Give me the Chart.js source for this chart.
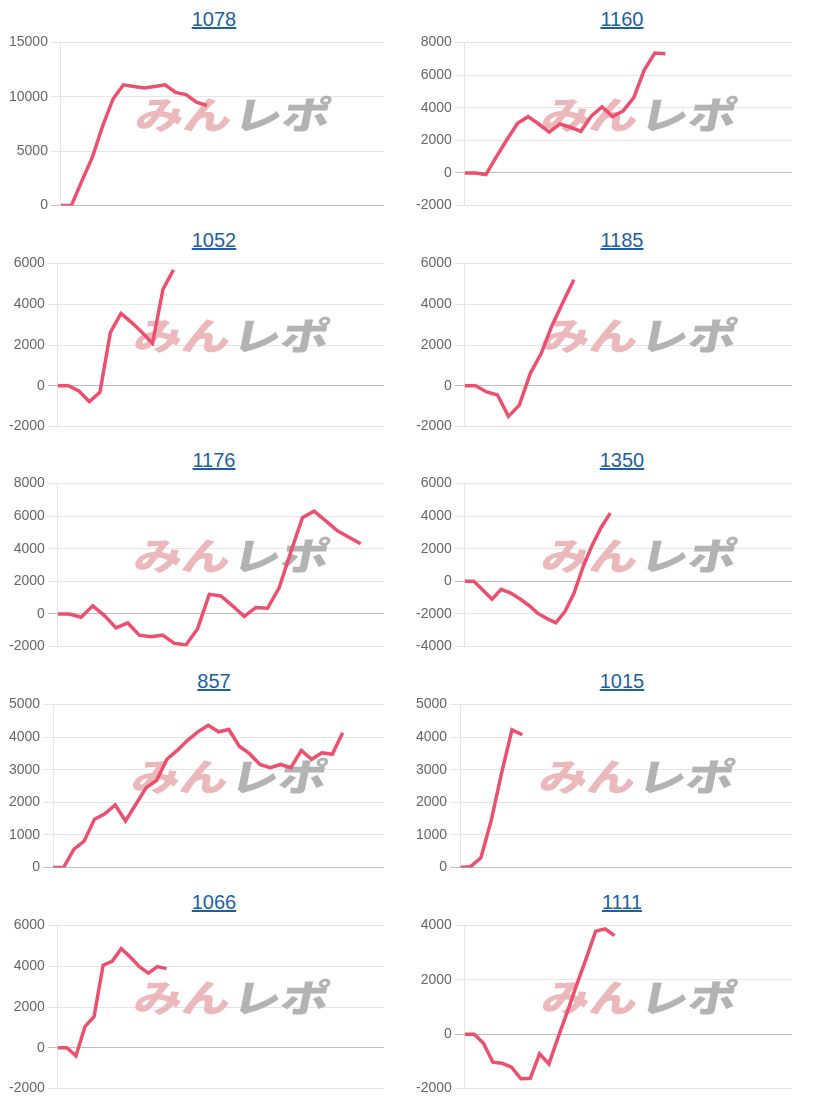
<!DOCTYPE html>
<html>
<head>
<meta charset="utf-8">
<script src="https://cdn.jsdelivr.net/npm/chart.js@4.4.1/dist/chart.umd.min.js"></script>
<style>
body { margin: 0; background: #fff; font-family: "Liberation Sans", Arial, sans-serif; }
#wrap { position: relative; width: 816px; height: 1105px; }
.panel { position: absolute; width: 408px; height: 221px; }
.panel a { position: absolute; left: 0; top: 8px; width: 100%; padding-left: 20px; box-sizing: border-box;
  text-align: center; font-size: 20px; line-height: 22px; color: #1c5fa6; text-decoration: underline; }
.panel canvas { position: absolute; }
</style>
</head>
<body>
<div id="wrap"></div>
<script>
// machine numbers shown as titles, left column then right column per row
const titles = ['1078', '1160', '1052', '1185', '1176', '1350', '857', '1015', '1066', '1111'];

// balance series
const s1078 = [0, 0, 2250, 4400, 7300, 9800, 11100, 10950, 10800, 10950, 11100, 10400, 10200, 9500, 9200];
const s1160 = [0, 0, -100, 1000, 2050, 3050, 3450, 3000, 2500, 3000, 2800, 2550, 3500, 4050, 3450, 3800, 4600, 6300, 7350, 7300];
const s1052 = [0, 0, -250, -770, -320, 2620, 3550, 3110, 2620, 2080, 4740, 5680];
const s1185 = [0, 0, -300, -450, -1500, -950, 600, 1580, 2960, 4100, 5200];
const s1176 = [0, 0, -200, 500, -100, -850, -550, -1300, -1400, -1300, -1800, -1900, -900, 1200, 1100, 500, -150, 400, 350, 1600, 3800, 5900, 6300, 5700, 5100, 4700, 4300];
const s1350 = [0, 0, -550, -1100, -490, -700, -1050, -1450, -1950, -2270, -2540, -1870, -750, 870, 2190, 3300, 4180];
const s857 = [0, 0, 560, 815, 1480, 1650, 1920, 1430, 1940, 2450, 2670, 3320, 3590, 3900, 4160, 4360, 4160, 4230, 3720, 3490, 3160, 3060, 3160, 3060, 3590, 3320, 3520, 3470, 4130];
const s1015 = [0, 30, 300, 1450, 2900, 4220, 4070];
const s1066 = [0, 0, -400, 1040, 1530, 4050, 4240, 4860, 4450, 3980, 3660, 3980, 3880];
const s1111 = [0, 0, -330, -1030, -1070, -1210, -1640, -1620, -720, -1090, -100, 860, 1850, 2800, 3790, 3870, 3630];

// number of x slots per chart (x labels are not shown)
const slotCounts = [32, 32, 32, 31, 29, 37, 33, 33, 37, 36];

// y axis ranges
const yMins = [0, -2000, -2000, -2000, -2000, -4000, 0, 0, -2000, -2000];
const yMaxs = [15000, 8000, 6000, 6000, 8000, 6000, 5000, 5000, 6000, 4000];
const ySteps = [5000, 2000, 2000, 2000, 2000, 2000, 1000, 1000, 2000, 2000];

const series = [s1078, s1160, s1052, s1185, s1176, s1350, s857, s1015, s1066, s1111];

const lineColor = 'rgb(236,80,110)';
const rowTops = [0, 221, 441, 662, 883];

// logo drawn behind the line
const watermark = {
    id: 'watermark',
    beforeDatasetsDraw(chart) {
        const ctx = chart.ctx;
        const a = chart.chartArea;
        const cx = a.left + a.width * 0.535;
        const cy = a.top + a.height * 0.44;
        ctx.save();
        ctx.translate(cx, cy);
        ctx.transform(1, 0, -0.2, 1, 0, 0);
        ctx.scale(1.2, 0.95);
        ctx.font = '900 40px "Noto Sans CJK JP"';
        ctx.textBaseline = 'middle';
        const w1 = ctx.measureText('みん').width;
        const w2 = ctx.measureText('レポ').width;
        const x0 = -(w1 + w2 + 2) / 2;
        ctx.fillStyle = '#ebb8bc';
        ctx.fillText('みん', x0, 0);
        ctx.fillStyle = '#b3b3b3';
        ctx.fillText('レポ', x0 + w1 + 2, 0);
        ctx.restore();
    }
};

const wrap = document.getElementById('wrap');

titles.forEach((title, i) => {
    const col = i % 2, row = Math.floor(i / 2);
    const panel = document.createElement('div');
    panel.className = 'panel';
    panel.style.left = (col * 408) + 'px';
    panel.style.top = rowTops[row] + 'px';

    const link = document.createElement('a');
    link.href = '#';
    link.textContent = title;
    panel.appendChild(link);

    const canvas = document.createElement('canvas');
    canvas.width = col === 0 ? 380 : 381;
    canvas.height = 186;
    canvas.style.left = (col === 0 ? 6 : 5) + 'px';
    canvas.style.top = '31px';
    panel.appendChild(canvas);
    wrap.appendChild(panel);

    const labels = Array.from({ length: slotCounts[i] }, (_, k) => k + 1);

    new Chart(canvas, {
        type: 'line',
        data: {
            labels: labels,
            datasets: [{
                data: series[i],
                borderColor: lineColor,
                borderWidth: 3.5,
                pointRadius: 0,
                fill: false,
                tension: 0
            }]
        },
        options: {
            responsive: false,
            animation: false,
            devicePixelRatio: 1,
            layout: { padding: { right: 2 } },
            plugins: { legend: { display: false }, tooltip: { enabled: false } },
            scales: {
                x: { display: false },
                y: {
                    min: yMins[i],
                    max: yMaxs[i],
                    ticks: {
                        stepSize: ySteps[i],
                        color: '#666',
                        padding: 3,
                        font: { size: 14, family: '"Liberation Sans", Arial, sans-serif' },
                        callback: v => String(v)
                    },
                    grid: {
                        drawTicks: true,
                        tickLength: 10,
                        color: c => (c.tick && c.tick.value === 0) ? 'rgba(0,0,0,0.25)' : 'rgba(0,0,0,0.1)'
                    },
                    border: { display: true, color: 'rgba(0,0,0,0.1)' }
                }
            }
        },
        plugins: [watermark]
    });
});
</script>
</body>
</html>
